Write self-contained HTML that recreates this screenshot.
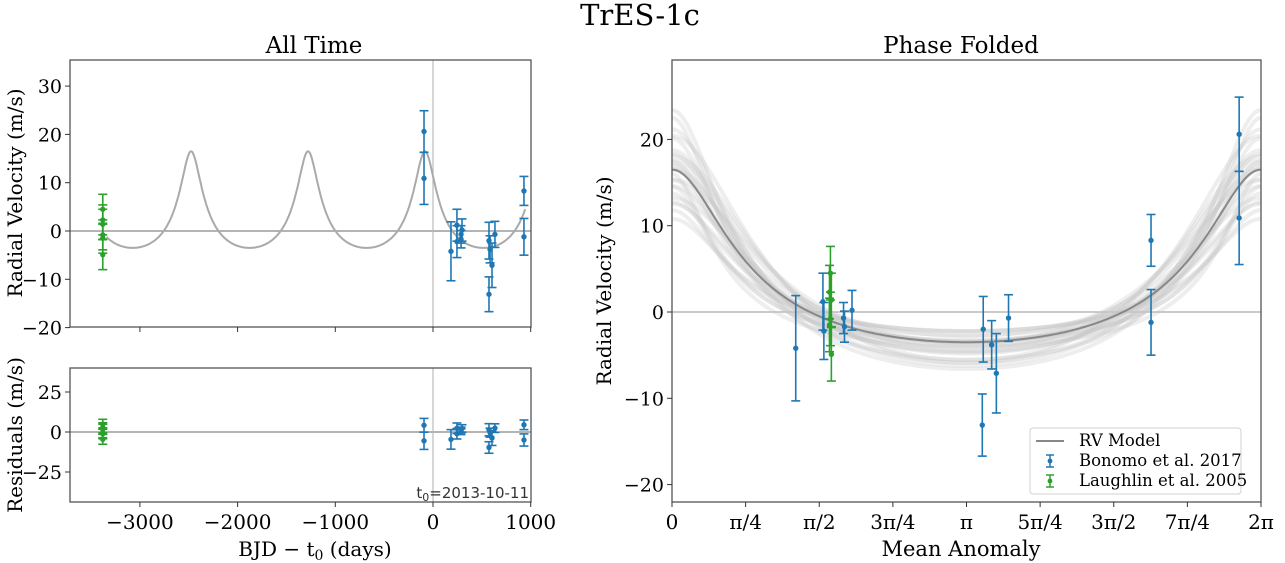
<!DOCTYPE html>
<html><head><meta charset="utf-8"><style>
html,body{margin:0;padding:0;background:#fff;}
svg{display:block;font-family:"DejaVu Serif","Liberation Serif",serif;}
</style></head><body>
<svg id="fig" width="1285" height="563" viewBox="0 0 1285 563" xmlns="http://www.w3.org/2000/svg">
<text x="640" y="25" font-size="29" text-anchor="middle">TrES-1c</text>
<text x="314" y="53" font-size="23" text-anchor="middle">All Time</text>
<text x="961" y="53" font-size="23" text-anchor="middle">Phase Folded</text>
<text x="315" y="556" font-size="20" text-anchor="middle">BJD − t<tspan font-size="14" dy="4">0</tspan><tspan dy="-4"> (days)</tspan></text>
<text x="961" y="556" font-size="21" text-anchor="middle">Mean Anomaly</text>
<text transform="translate(22,193) rotate(-90)" font-size="20" text-anchor="middle">Radial Velocity (m/s)</text>
<text transform="translate(22,435) rotate(-90)" font-size="20" text-anchor="middle">Residuals (m/s)</text>
<text transform="translate(611,281) rotate(-90)" font-size="20" text-anchor="middle">Radial Velocity (m/s)</text>
<g id="g"></g>
</svg>
<script>
// ---- data ----
const blueTimes = [-92, -92, 184, 245, 245, 287, 287, 297, 573, 584, 604, 634, 573, 931, 931];
const bluePhases = [6.05, 6.05, 1.32, 1.61, 1.62, 1.83, 1.84, 1.92, 3.32, 3.41, 3.46, 3.59, 3.31, 5.11, 5.11];
const blueRV = [20.6, 10.9, -4.2, 1.2, -2.2, -0.7, -1.7, 0.2, -2.0, -3.8, -7.1, -0.7, -13.1, 8.3, -1.2];
const blueErr = [4.3, 5.4, 6.1, 3.3, 3.3, 1.8, 1.8, 2.3, 3.8, 2.8, 4.6, 2.7, 3.6, 3.0, 3.8];
const greenTimes = [-3380, -3380, -3380, -3380, -3380, -3380];
const greenPhases = [1.69, 1.68, 1.70, 1.69, 1.68, 1.70];
const greenRV = [4.5, 2.3, 1.4, -0.8, -1.5, -4.9];
const greenErr = [3.1, 3.1, 3.1, 3.1, 3.1, 3.1];
const modelK = 10, modelE = 0.43, modelG = 2.2, modelP = 1197, modelTp = -82;
const drawK = [10,8,12,9,11,7.5,12.5,10.5,9.5,8.5,11.5,13,7,10,9,11,14,15,6.5,12,8,13.5,10,11,9];
const drawE = [0.42,0.38,0.47,0.5,0.33,0.43,0.38,0.47,0.3,0.5,0.42,0.34,0.47,0.55,0.42,0.38,0.5,0.46,0.43,0.3,0.34,0.42,0.36,0.45,0.4];
const drawG = [2.3,1.5,2.5,1,3,2,1.5,1.5,3,1,2,3,1.5,0.5,2.5,2,1.5,1.5,1.5,2.5,2.5,2,3,1.5,2];
const timeTicks = [-3000,-2000,-1000,0,1000];
const rvTicks = [30,20,10,0,-10,-20];
const resTicks = [25,0,-25];
const phRvTicks = [20,10,0,-10,-20];
const phTickLabels = ["0","π/4","π/2","3π/4","π","5π/4","3π/2","7π/4","2π"];

// ---- helpers ----
const NS="http://www.w3.org/2000/svg";
const G=document.getElementById('g');
function mk(tag,at,parent){const e=document.createElementNS(NS,tag);for(const k in at)e.setAttribute(k,at[k]);(parent||G).appendChild(e);return e;}
function rv(M,K,e,g){
  let E=M;for(let i=0;i<40;i++)E=E-(E-e*Math.sin(E)-M)/(1-e*Math.cos(E));
  const nu=2*Math.atan2(Math.sqrt(1+e)*Math.sin(E/2),Math.sqrt(1-e)*Math.cos(E/2));
  return K*(Math.cos(nu)+e)+g;
}
function modelAt(t){let M=2*Math.PI*(t-modelTp)/modelP;M=((M%(2*Math.PI))+2*Math.PI)%(2*Math.PI);return rv(M,modelK,modelE,modelG);}
const tx=t=>433+t*0.0977;
const ty=v=>231-v*4.83;
const ry=v=>432-v*1.6;
const px=M=>672+M/(2*Math.PI)*589;
const py=v=>312-v*8.63;

function frame(x0,y0,x1,y1,name){
  const r=mk('rect',{x:x0,y:y0,width:x1-x0,height:y1-y0,fill:'none',stroke:'#555','stroke-width':1.3});
  
  
}
function errbar(x,y,yl,yh,col,name){
  const g=mk('g',{stroke:col,'stroke-width':1.6});
  
  
  mk('line',{x1:x,x2:x,y1:yl,y2:yh},g);
  mk('line',{x1:x-4.5,x2:x+4.5,y1:yl,y2:yl},g);
  mk('line',{x1:x-4.5,x2:x+4.5,y1:yh,y2:yh},g);
  mk('circle',{cx:x,cy:y,r:2.7,fill:col,stroke:'none'},g);
}
function ytick(x,y,label,name){
  mk('line',{x1:x-5,x2:x,y1:y,y2:y,stroke:'#333','stroke-width':1});
  const t=mk('text',{x:x-8,y:y+7,'font-size':19,'text-anchor':'end'});t.textContent=label;
  
  
}
function xtick(x,y,label,name){
  mk('line',{x1:x,x2:x,y1:y,y2:y+5,stroke:'#333','stroke-width':1});
  if(label!==null){const t=mk('text',{x:x,y:y+27,'font-size':20,'text-anchor':'middle'});t.textContent=label;
  
  }
}
const fmt=v=>v<0?'−'+Math.abs(v):String(v);

mk('defs',{}).innerHTML='<clipPath id="c1"><rect x="70" y="60" width="461" height="267"/></clipPath><clipPath id="c3"><rect x="672" y="60" width="589" height="442"/></clipPath>';

// ---- left top ----
mk('line',{x1:70,x2:531,y1:ty(0),y2:ty(0),stroke:'#888','stroke-width':1.3});
mk('line',{x1:tx(0),x2:tx(0),y1:60,y2:327,stroke:'#bbb','stroke-width':1.2});
let d='';for(let t=-3340;t<=945;t+=4){d+=(d?'L':'M')+tx(t).toFixed(1)+','+ty(modelAt(t)).toFixed(1);}
const lm=mk('path',{d:d,fill:'none',stroke:'#aaa','stroke-width':2,'clip-path':'url(#c1)'});


greenTimes.forEach((t,i)=>errbar(tx(t),ty(greenRV[i]),ty(greenRV[i]-greenErr[i]),ty(greenRV[i]+greenErr[i]),'#2ca02c','laughlin-point'));
blueTimes.forEach((t,i)=>errbar(tx(t),ty(blueRV[i]),ty(blueRV[i]-blueErr[i]),ty(blueRV[i]+blueErr[i]),'#1f77b4','bonomo-point'));
frame(70,60,531,327,'all-time-axes');
rvTicks.forEach(v=>ytick(70,ty(v),fmt(v),'rv-y-tick'));
timeTicks.forEach(t=>xtick(tx(t),327,null,'time-tick'));

// ---- left bottom ----
mk('line',{x1:70,x2:531,y1:ry(0),y2:ry(0),stroke:'#888','stroke-width':1.3});
mk('line',{x1:tx(0),x2:tx(0),y1:368,y2:502,stroke:'#bbb','stroke-width':1.2});
greenTimes.forEach((t,i)=>{const r=greenRV[i]-modelAt(t);errbar(tx(t),ry(r),ry(r-greenErr[i]),ry(r+greenErr[i]),'#2ca02c','laughlin-residual');});
blueTimes.forEach((t,i)=>{const r=blueRV[i]-modelAt(t);errbar(tx(t),ry(r),ry(r-blueErr[i]),ry(r+blueErr[i]),'#1f77b4','bonomo-residual');});
frame(70,368,531,502,'residuals-axes');
resTicks.forEach(v=>ytick(70,ry(v),fmt(v),'residual-y-tick'));
timeTicks.forEach(t=>xtick(tx(t),502,fmt(t),'time-x-tick'));
const t0=mk('text',{x:529,y:498,'font-size':15,'text-anchor':'end','font-family':'DejaVu Sans, sans-serif',fill:'#333'});
t0.innerHTML='t<tspan font-size="11" dy="3">0</tspan><tspan dy="-3">=2013-10-11</tspan>';



// ---- right ----
mk('line',{x1:672,x2:1261,y1:py(0),y2:py(0),stroke:'#aaa','stroke-width':1.3});
const dg=mk('g',{'clip-path':'url(#c3)'});
drawK.forEach((K,j)=>{let s='';for(let k=0;k<=200;k++){const M=k/200*2*Math.PI;s+=(s?'L':'M')+px(M).toFixed(1)+','+py(rv(M,K,drawE[j],drawG[j])).toFixed(1);}
  const p=mk('path',{d:s,fill:'none',stroke:'#c8c8c8','stroke-width':4,opacity:0.3},dg);
  
  });
let s2='';for(let k=0;k<=300;k++){const M=k/300*2*Math.PI;s2+=(s2?'L':'M')+px(M).toFixed(1)+','+py(rv(M,modelK,modelE,modelG)).toFixed(1);}
const pm=mk('path',{d:s2,fill:'none',stroke:'#888','stroke-width':2},dg);


bluePhases.forEach((M,i)=>errbar(px(M),py(blueRV[i]),py(blueRV[i]-blueErr[i]),py(blueRV[i]+blueErr[i]),'#1f77b4','bonomo-phase-point'));
greenPhases.forEach((M,i)=>errbar(px(M),py(greenRV[i]),py(greenRV[i]-greenErr[i]),py(greenRV[i]+greenErr[i]),'#2ca02c','laughlin-phase-point'));
frame(672,60,1261,502,'phase-folded-axes');
phRvTicks.forEach(v=>ytick(672,py(v),fmt(v),'phase-y-tick'));
phTickLabels.forEach((l,i)=>xtick(px(i*Math.PI/4),502,l,'phase-x-tick'));

// legend
const lg=mk('g',{'font-size':16.5,'font-family':'DejaVu Serif, serif'});


mk('rect',{x:1030,y:428,width:211,height:66,rx:3,fill:'#fff',stroke:'#ccc','stroke-width':1,opacity:0.9},lg);
mk('line',{x1:1036,x2:1064,y1:441,y2:441,stroke:'#888','stroke-width':2},lg);
const a=mk('text',{x:1079,y:446},lg);a.textContent='RV Model';


function lgMark(y,col){mk('line',{x1:1050,x2:1050,y1:y-6,y2:y+6,stroke:col,'stroke-width':1.5},lg);mk('line',{x1:1046,x2:1054,y1:y-6,y2:y-6,stroke:col,'stroke-width':1.5},lg);mk('line',{x1:1046,x2:1054,y1:y+6,y2:y+6,stroke:col,'stroke-width':1.5},lg);mk('circle',{cx:1050,cy:y,r:2.4,fill:col},lg);}
lgMark(461,'#1f77b4');lgMark(481,'#2ca02c');
const b=mk('text',{x:1079,y:466},lg);b.textContent='Bonomo et al. 2017';


const c=mk('text',{x:1079,y:486},lg);c.textContent='Laughlin et al. 2005';


</script>
</body></html>
